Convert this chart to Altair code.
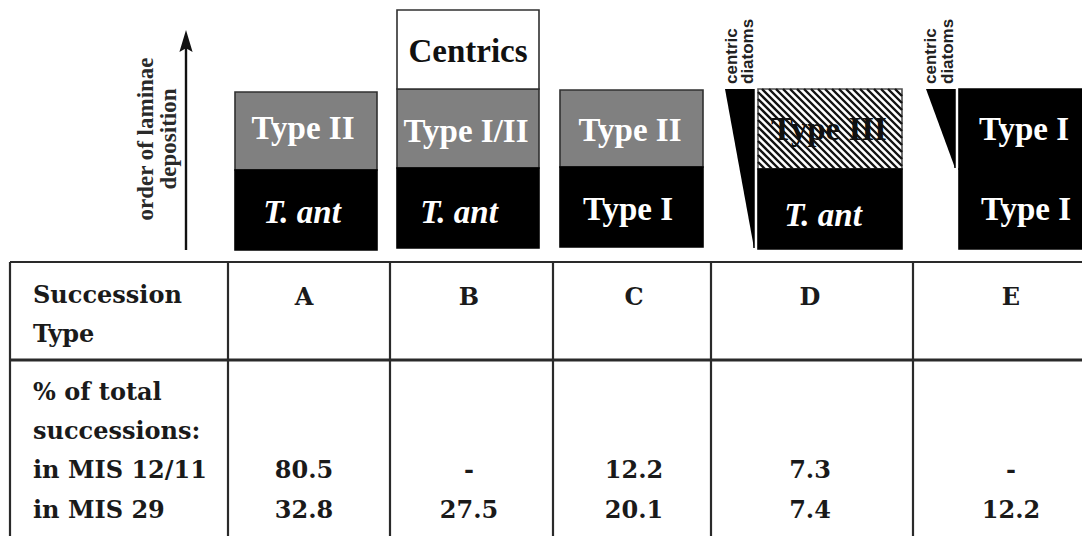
import altair as alt
import pandas as pd
import numpy as np

# ---------------- content ----------------
types = ["A", "B", "C", "D", "E"]
upper_layer = ["Type II", "Type I/II", "Type II", "Type III", "Type I"]
lower_layer = ["T. ant", "T. ant", "Type I", "T. ant", "Type I"]
upper_kind = ["gray", "gray", "gray", "hatch", "black"]
lower_kind = ["black", "black", "black", "black", "black"]
top_layer_label = "Centrics"          # only in succession B
mis_12_11 = ["80.5", "-", "12.2", "7.3", "-"]
mis_29 = ["32.8", "27.5", "20.1", "7.4", "12.2"]
header_labels = ["Succession", "Type"]
body_labels = ["% of total", "successions:", "in MIS 12/11", "in MIS 29"]
axis_label = ["order of laminae", "deposition"]
wedge_label = ["centric", "diatoms"]

# ---------------- layout (diagram coordinates, y grows downward) ----------------
block_x0 = [235, 397, 560, 758, 959]
block_x1 = [377, 539, 703, 902, 1095]
block_top = [92, 89, 90, 89, 89]
block_mid = [170, 168, 167, 169, 169]
block_bot = [250, 248, 247, 249, 249]
centrics_top = 10
upper_text_x = [303, 466, 630, 829, 1024]
upper_text_y = [129, 132, 131, 130, 130]
lower_text_x = [302, 459, 628, 823, 1026]
lower_text_y = [213, 213, 210, 216, 210]
centrics_text = (468, 52)

wedge_types = ["D", "E"]
wedge_left = [725, 926]
wedge_right = [754, 955]
wedge_top = [89, 89]
wedge_bottom = [248, 168]
wedge_text_x = [[732, 748], [931, 948]]
wedge_text_y = 84

arrow_x = 186
arrow_y = [250, 44]
arrow_head_y = 41
axis_text_x = [146, 169]
axis_text_y = 139

table_left = 10
table_right = 1095
table_top = 262
table_header_line = 360
table_bottom = 560
col_lines = [10, 228, 390, 553, 711, 913]
col_centers = [304, 469, 634, 810, 1011]
header_y = 298
row_label_x = 33
header_label_y = [296, 335]
body_label_y = [393, 432, 471, 511]
value_y = [471, 511]

fill_of = {"gray": "#808080", "black": "#000000", "hatch": "#ffffff", "white": "#ffffff"}
stroke_of = {"gray": "#303030", "black": "#000000", "hatch": "#505050", "white": "#303030"}

xs = alt.Scale(domain=[8, 1082], range=[0, 1074])
ys = alt.Scale(domain=[8, 536], reverse=True)
X = lambda f: alt.X(f, scale=xs, axis=None)
Y = lambda f: alt.Y(f, scale=ys, axis=None)

# ---------------- rectangles ----------------
rects = []
for i, t in enumerate(types):
    rects.append(dict(x=block_x0[i], x2=block_x1[i], y=block_top[i], y2=block_mid[i],
                      fill=fill_of[upper_kind[i]], stroke=stroke_of[upper_kind[i]]))
    rects.append(dict(x=block_x0[i], x2=block_x1[i], y=block_mid[i], y2=block_bot[i],
                      fill=fill_of[lower_kind[i]], stroke=stroke_of[lower_kind[i]]))
    if t == "B":
        rects.append(dict(x=block_x0[i], x2=block_x1[i], y=centrics_top, y2=block_top[i],
                          fill="#ffffff", stroke="#303030"))
rect_df = pd.DataFrame(rects)
rect_layer = alt.Chart(rect_df).mark_rect(strokeWidth=1.6).encode(
    x=X("x:Q"), x2="x2", y=Y("y:Q"), y2="y2",
    fill=alt.Fill("fill:N", scale=None), stroke=alt.Stroke("stroke:N", scale=None))

# ---------------- hatch pattern for Type III ----------------
hi = upper_kind.index("hatch")
hx0, hx1, hy0, hy1 = block_x0[hi], block_x1[hi], block_top[hi], block_mid[hi]
segs = []
for c in np.arange(hx0 - hy1, hx1 - hy0, 7.0):
    xa = max(hx0, hy0 + c)
    xb = min(hx1, hy1 + c)
    if xb - xa > 1:
        segs.append(dict(x=xa, y=xa - c, x2=xb, y2=xb - c))
hatch_layer = alt.Chart(pd.DataFrame(segs)).mark_rule(strokeWidth=2.4, color="#111").encode(
    x=X("x:Q"), y=Y("y:Q"), x2="x2", y2="y2")

# ---------------- centric diatom wedges ----------------
wp = []
for i, t in enumerate(wedge_types):
    wp.append(dict(type=t, y=wedge_top[i], x=wedge_left[i], x2=wedge_right[i]))
    wp.append(dict(type=t, y=wedge_bottom[i], x=wedge_right[i], x2=wedge_right[i]))
wedge_layer = alt.Chart(pd.DataFrame(wp)).mark_area(orient="horizontal", color="black").encode(
    y=Y("y:Q"), x=alt.X("x:Q", scale=xs, axis=None, stack=None), x2="x2", detail="type:N")
wedge_edge = alt.Chart(pd.DataFrame(
    [dict(x=wedge_right[i], y=wedge_top[i], y2=wedge_bottom[i]) for i in range(2)])).mark_rule(
    strokeWidth=1.5, color="black").encode(x=X("x:Q"), y=Y("y:Q"), y2="y2")

# ---------------- arrow ----------------
arrow_line = alt.Chart(pd.DataFrame([dict(x=arrow_x, y=arrow_y[0], y2=arrow_y[1])])).mark_rule(
    strokeWidth=2.4, color="#111").encode(x=X("x:Q"), y=Y("y:Q"), y2="y2")
arrow_head = alt.Chart(pd.DataFrame([dict(x=arrow_x, y=arrow_head_y)])).mark_point(
    shape="M0,-1L0.6,1L0,0.65L-0.6,1Z", size=484, filled=True, opacity=1, color="#111").encode(
    x=X("x:Q"), y=Y("y:Q"))

# ---------------- texts ----------------
def text_layer(rows, **kw):
    return alt.Chart(pd.DataFrame(rows)).mark_text(**kw).encode(
        x=X("x:Q"), y=Y("y:Q"), text="t:N")

white_up, white_it, black_up = [], [], []
for i in range(len(types)):
    (black_up if upper_kind[i] == "hatch" else white_up).append(
        dict(x=upper_text_x[i], y=upper_text_y[i], t=upper_layer[i]))
    (white_it if lower_layer[i].startswith("T.") else white_up).append(
        dict(x=lower_text_x[i], y=lower_text_y[i], t=lower_layer[i]))
black_up.append(dict(x=centrics_text[0], y=centrics_text[1], t=top_layer_label))

block_font = dict(font="Liberation Serif", fontSize=33, fontWeight="bold", align="center", baseline="middle")
t_white = text_layer(white_up, color="white", **block_font)
t_white_it = text_layer(white_it, color="white", fontStyle="italic", **block_font)
t_black = text_layer(black_up, color="#111", **block_font)

t_axis = text_layer([dict(x=axis_text_x[k], y=axis_text_y, t=axis_label[k]) for k in range(2)],
                    font="Liberation Serif", fontSize=23, fontWeight="bold", color="#2a2a2a",
                    angle=270, align="center", baseline="middle")
t_wedge = text_layer([dict(x=wedge_text_x[i][k], y=wedge_text_y, t=wedge_label[k])
                      for i in range(2) for k in range(2)],
                     font="Liberation Sans", fontSize=17, fontWeight="bold", color="#222",
                     angle=270, align="left", baseline="middle")

# ---------------- table ----------------
hl = pd.DataFrame([dict(x=table_left, x2=table_right, y=table_top, w=2.2),
                   dict(x=table_left, x2=table_right, y=table_header_line, w=3.2)])
h_rules = alt.Chart(hl).mark_rule(color="#2a2a2a").encode(
    x=X("x:Q"), x2="x2", y=Y("y:Q"), strokeWidth=alt.StrokeWidth("w:Q", scale=None))
vl = pd.DataFrame([dict(x=c, y=table_top, y2=table_bottom) for c in col_lines])
v_rules = alt.Chart(vl).mark_rule(color="#2a2a2a", strokeWidth=2.2).encode(
    x=X("x:Q"), y=Y("y:Q"), y2="y2")

table_font = dict(font="DejaVu Serif", fontSize=24, fontWeight="bold", color="#1a1a1a", baseline="middle")
row_rows = [dict(x=row_label_x, y=header_label_y[k], t=header_labels[k]) for k in range(2)] + \
           [dict(x=row_label_x, y=body_label_y[k], t=body_labels[k]) for k in range(4)]
t_rows = text_layer(row_rows, align="left", **table_font)
cell_rows = []
for i in range(len(types)):
    cell_rows.append(dict(x=col_centers[i], y=header_y, t=types[i]))
    cell_rows.append(dict(x=col_centers[i], y=value_y[0], t=mis_12_11[i]))
    cell_rows.append(dict(x=col_centers[i], y=value_y[1], t=mis_29[i]))
t_cells = text_layer(cell_rows, align="center", **table_font)

chart = alt.layer(
    rect_layer, hatch_layer, wedge_layer, wedge_edge, arrow_line, arrow_head,
    t_white, t_white_it, t_black, t_axis, t_wedge,
    h_rules, v_rules, t_rows, t_cells
).properties(width=1074, height=528, padding=0, autosize="none", background="white"
).configure_view(stroke=None)

chart.save("out.html", embed_options={"renderer": "svg", "actions": False})
